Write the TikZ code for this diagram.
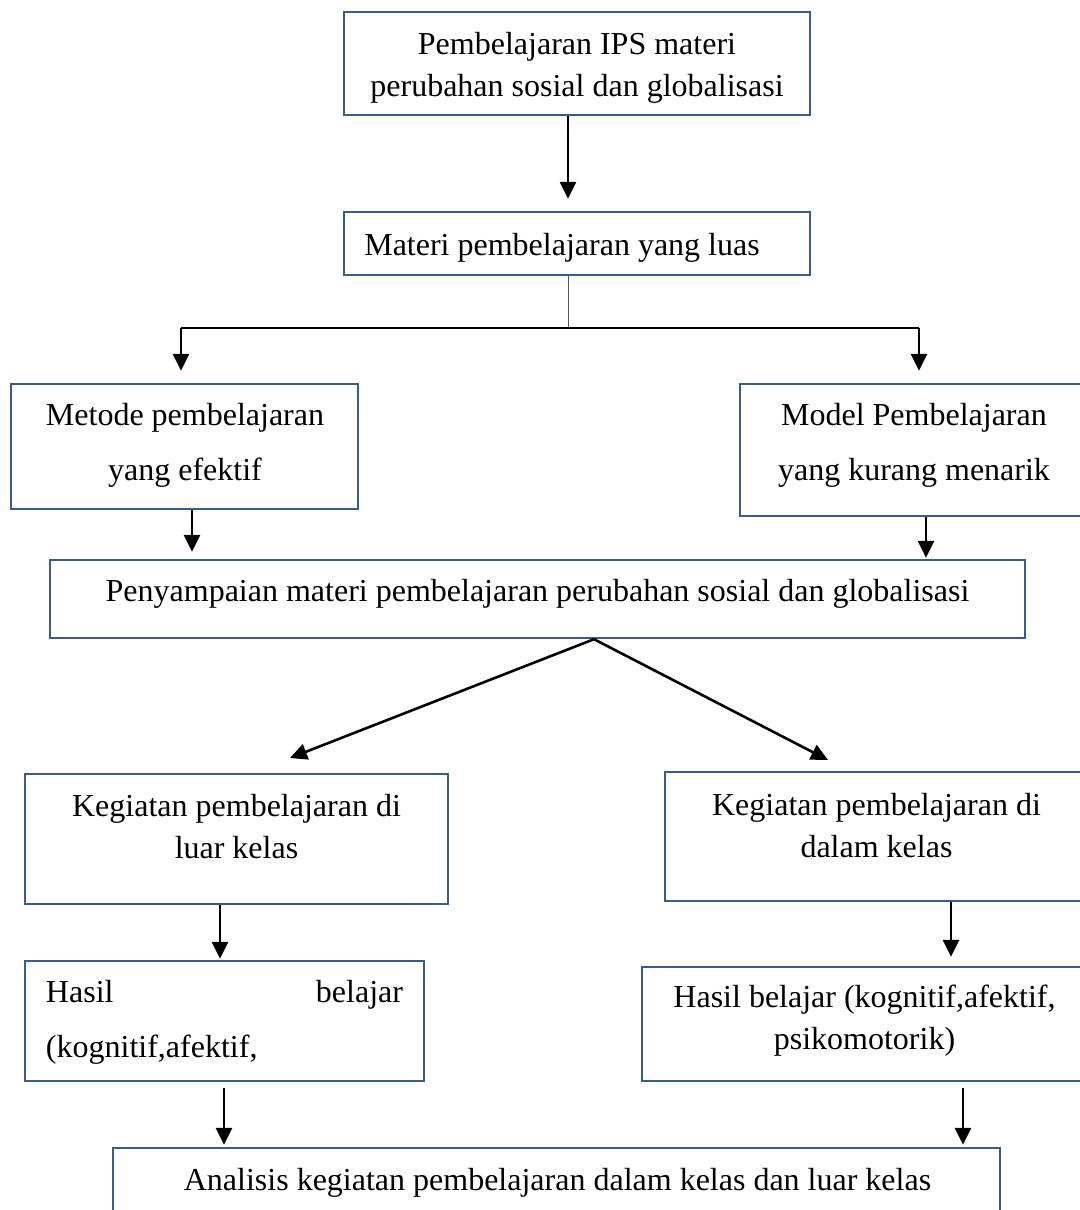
\documentclass[tikz,border=0pt]{standalone}
\usepackage{fontspec}
\setmainfont{Liberation Serif}
\usetikzlibrary{arrows.meta}

\begin{document}
\begin{tikzpicture}[x=0.5pt, y=-0.5pt]
    \definecolor{borderColour}{HTML}{385D8A}

    \tikzset{
        box/.style={draw=borderColour, line width=1.2pt, rectangle, inner sep=0pt},
        txt/.style={inner sep=0pt, align=center, font=\fontsize{16}{21}\selectfont},
        txtwide/.style={inner sep=0pt, align=center, font=\fontsize{16}{27.5}\selectfont},
        arr/.style={line width=1.3pt, -{Triangle[width=8pt,length=8.5pt]}}
    }

    % Page area
    \clip (0,0) rectangle (1080,1210);
    \fill[white] (0,0) rectangle (1080,1210);

    % Boxes
    \node[box, minimum width=233pt, minimum height=51.5pt] (topic) at (577,63.5) {};
    \node[box, minimum width=233pt, minimum height=31.5pt] (materi) at (577,243.5) {};
    \node[box, minimum width=173.5pt, minimum height=62.5pt] (metode) at (184.5,446.5) {};
    \node[box, minimum width=175pt, minimum height=66pt] (model) at (915,450) {};
    \node[box, minimum width=487.5pt, minimum height=39pt] (penyampaian) at (537.5,599) {};
    \node[box, minimum width=211.5pt, minimum height=65pt] (luar) at (236.5,839) {};
    \node[box, minimum width=212.5pt, minimum height=64.5pt] (dalam) at (877.5,836.5) {};
    \node[box, minimum width=199.5pt, minimum height=60pt] (hasilL) at (224.5,1021) {};
    \node[box, minimum width=224pt, minimum height=57pt] (hasilR) at (866,1024) {};
    \node[box, minimum width=443.5pt, minimum height=41pt] (analisis) at (556.5,1189) {};

    % Texts
    \node[txt] (topicText) at (577,67.5) {Pembelajaran IPS materi\\perubahan sosial dan globalisasi};
    \node[txt] (materiText) at (562,247.5) {Materi pembelajaran yang luas};
    \node[txtwide] (metodeText) at (185,445) {Metode pembelajaran\\yang efektif};
    \node[txtwide] (modelText) at (914,445) {Model Pembelajaran\\yang kurang menarik};
    \node[txt] (penyampaianText) at (537.5,593.5) {Penyampaian materi pembelajaran perubahan sosial dan globalisasi};
    \node[txt] (luarText) at (236.5,827) {Kegiatan pembelajaran di\\luar kelas};
    \node[txt] (dalamText) at (876.5,825.5) {Kegiatan pembelajaran di\\dalam kelas};
    \node[txtwide, align=left, text width=178.5pt] (hasilLText) at (224.5,1022.5) {Hasil\hfill belajar\\(kognitif,afektif,};
    \node[txt] (hasilRText) at (864.5,1021) {Hasil belajar (kognitif,afektif,\\psikomotorik)};
    \node[txt] (analisisText) at (557.5,1182.5) {Analisis kegiatan pembelajaran dalam kelas dan luar kelas};

    % Branch points
    \coordinate (split) at (568,328);
    \coordinate (splitL) at (181,328);
    \coordinate (splitR) at (919,328);
    \coordinate (tipL) at (290,758);
    \coordinate (tipR) at (828,760);

    % Connectors
    \draw[arr, shorten >=6pt] (568,0 |- topic.south) -- (568,0 |- materi.north);
    \draw[line width=0.5pt, gray!70!black] (568,0 |- materi.south) -- (split);
    \draw[line width=0.75pt] (splitL) -- (splitR);
    \draw[arr, shorten >=6pt] (splitL) -- (splitL |- metode.north);
    \draw[arr, shorten >=6pt] (splitR) -- (splitR |- model.north);
    \draw[arr, shorten >=3.5pt] (192,0 |- metode.south) -- (192,0 |- penyampaian.north);
    \draw[arr, shorten >=0.5pt] (926,0 |- model.south) -- (926,0 |- penyampaian.north);
    \draw[arr] (594,0 |- penyampaian.south) -- (tipL);
    \draw[arr] (594,0 |- penyampaian.south) -- (tipR);
    \draw[arr, shorten >=0.5pt] (220,0 |- luar.south) -- (220,0 |- hasilL.north);
    \draw[arr, shorten >=4.5pt] (951,0 |- dalam.south) -- (951,0 |- hasilR.north);
    \draw[arr, shorten <=3pt, shorten >=1pt] (224,0 |- hasilL.south) -- (224,0 |- analisis.north);
    \draw[arr, shorten <=3pt, shorten >=1pt] (963,0 |- hasilR.south) -- (963,0 |- analisis.north);

\end{tikzpicture}
\end{document}
